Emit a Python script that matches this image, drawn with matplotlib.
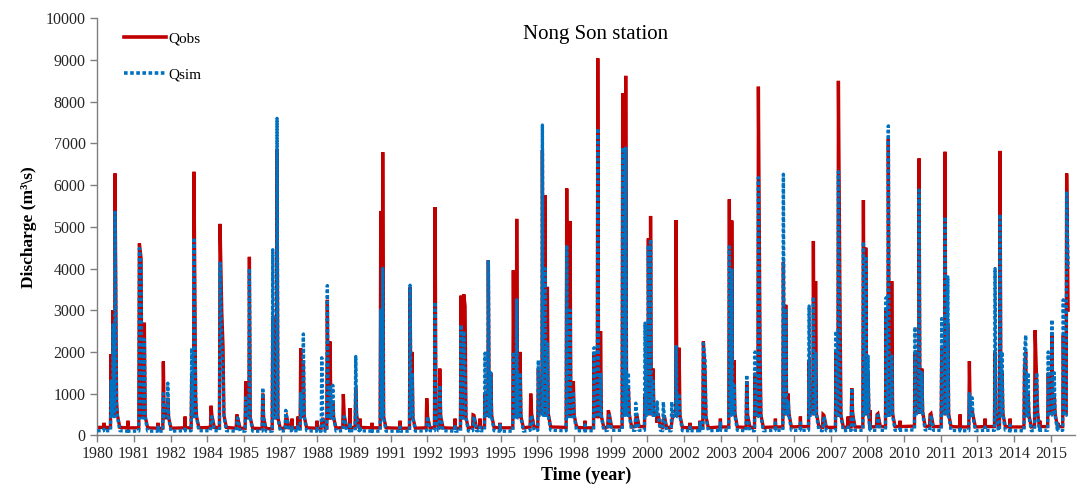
import matplotlib
matplotlib.use("Agg")
import matplotlib.pyplot as plt
from matplotlib.lines import Line2D

# ---------------- data ----------------
# x axis: day index from the start of the record; ticks every 500 days
tick_days = list(range(0, 13001, 500))
tick_labels = ["1980", "1981", "1982", "1984", "1985", "1987", "1988", "1989",
               "1991", "1992", "1993", "1995", "1996", "1998", "1999", "2000",
               "2002", "2003", "2004", "2006", "2007", "2008", "2010", "2011",
               "2013", "2014", "2015"]

# flood-event points: day index, observed and simulated discharge (m3/s)
event_day = [187, 214, 241, 262, 573, 596, 641, 900, 960, 1287, 1318, 1340,
             1550, 1673, 1696, 1714, 1901, 2023, 2073, 2255, 2392, 2450, 2569,
             2773, 2809, 3060, 3136, 3173, 3210, 3354, 3523, 3864, 3891, 4264,
             4291, 4491, 4605, 4669, 4959, 4996, 5014, 5123, 5286, 5331, 5364,
             5672, 5718, 5764, 5909, 6013, 6068, 6104, 6136, 6400, 6445, 6490,
             6773, 6823, 6861, 6967, 7163, 7204, 7240, 7341, 7468, 7513, 7543,
             7577, 7632, 7717, 7832, 7891, 7932, 8263, 8286, 8617, 8650, 8681,
             8854, 8968, 9013, 9036, 9354, 9386, 9418, 9705, 9763, 9793, 9895,
             10072, 10104, 10127, 10286, 10445, 10477, 10508, 10631, 10754,
             10785, 10831, 11149, 11204, 11241, 11354, 11513, 11558, 11595,
             11890, 11927, 12240, 12308, 12335, 12642, 12658, 12690, 12786,
             12809, 12965, 13015, 13047, 13170, 13216, 13236]
event_obs = [1950, 3000, 6280, 800, 4600, 4250, 2700, 1770, 900, 1500, 6320, 900,
             710, 5070, 3000, 2100, 500, 1300, 4280, 1000, 2850, 6840, 400,
             2090, 1800, 300, 3250, 2250, 800, 990, 1130, 5380, 6790, 3550,
             2000, 890, 5470, 1600, 3350, 3380, 3100, 490, 1000, 4200, 1500,
             3960, 5190, 2000, 1000, 1600, 6840, 5760, 3560, 5920, 5140, 1300,
             2000, 9040, 2500, 600, 8200, 8620, 1200, 400, 1000, 4720, 5260,
             1600, 300, 300, 300, 5160, 2100, 2250, 1500, 5660, 5150, 1800,
             1300, 1500, 8360, 2000, 4160, 3130, 1000, 1800, 4660, 3700, 500,
             2000, 8500, 2900, 1130, 5640, 4500, 1500, 500, 3000,
             7120, 3700, 2000, 6640, 1600, 500, 2100, 6800, 2700,
             1780, 600, 2000, 6820, 1500, 1600, 2000, 1000, 2520,
             1200, 1500, 2400, 1000, 2400, 6280, 3000]
event_sim = [1300, 2650, 5350, 700, 4480, 4100, 2300, 1000, 1250, 2090, 4740, 1000,
             300, 4130, 2300, 1500, 250, 900, 4000, 1140, 4450, 7600, 600,
             1000, 2430, 1860, 3590, 1200, 1200, 300, 1890, 3000, 4000, 3600,
             1500, 200, 3200, 1200, 2650, 2500, 1500, 200, 1970, 4200, 1500,
             2000, 3250, 1500, 400, 1800, 7440, 4000, 2200, 4560, 3000, 1050,
             2100, 7360, 1500, 300, 6900, 6920, 1500, 770, 2690, 4560, 4700,
             1300, 800, 800, 800, 2130, 1000, 2200, 1800, 4520, 4000, 1200,
             1450, 2000, 6180, 1500, 6260, 3000, 800, 3100, 3320, 2000, 200,
             2500, 6320, 1500, 1130, 4640, 4300, 1900, 200, 3300,
             7420, 1900, 2600, 5880, 1500, 200, 2800, 5240, 3800,
             1000, 900, 4000, 5300, 2000, 2000, 2400, 1500, 1000,
             1500, 2000, 2770, 1500, 3250, 5850, 4000]

# small dry-season rises: day index, observed and simulated discharge
minor_day = [91, 418, 827, 1196, 2654, 2736, 2995, 3445, 3581, 3745, 4127,
             4877, 5218, 5491, 6650, 8081, 8218, 8495, 9245, 9586, 10236,
             10536, 10945, 11763, 12104, 12445, 12850, 13095]
minor_obs = [300, 350, 300, 450, 400, 450, 350, 650, 400, 300, 350,
             400, 400, 300, 350, 300, 350, 400, 400, 450, 450,
             600, 350, 500, 400, 400, 350, 300]
minor_sim = [150, 150, 200, 200, 200, 250, 200, 300, 200, 150, 200,
             250, 200, 250, 250, 200, 300, 300, 300, 300, 200,
             250, 200, 200, 200, 250, 200, 250]

# dry-season base flow and post-flood recession level, per record year
base_obs = [190, 180, 170, 180, 190, 170, 160, 180, 170, 190, 180, 170,
            180, 170, 190, 180, 200, 190, 180, 200, 210, 190, 180, 200,
            190, 200, 210, 190, 200, 210, 220, 210, 200, 210, 200, 210, 210]
base_sim = [110, 100, 100, 110, 110, 100, 100, 110, 100, 110, 100, 100,
            110, 100, 110, 100, 120, 110, 110, 120, 120, 110, 110, 120,
            110, 120, 120, 110, 120, 120, 130, 120, 110, 120, 110, 120, 120]
wet_obs = [480, 450, 420, 450, 480, 420, 420, 450, 420, 480, 450, 420,
           450, 420, 480, 450, 520, 480, 450, 520, 520, 480, 450, 520,
           480, 520, 520, 480, 520, 520, 560, 520, 480, 520, 480, 520, 520]
wet_sim = [450, 420, 420, 450, 450, 420, 420, 450, 420, 450, 420, 420,
           450, 420, 450, 420, 480, 450, 450, 480, 480, 450, 450, 480,
           450, 480, 480, 450, 480, 480, 520, 480, 450, 480, 450, 480, 480]


# ---------------- build hydrograph polylines ----------------
def year_idx(d):
    return min(int(d / 365.25), len(base_obs) - 1)


def build(values, mvalues, base, wet):
    pts = [(0, base[0])]
    prev = 0
    for d, v in zip(event_day, values):
        yi = year_idx(d)
        gap = d - prev
        if prev > 0 and gap > 24:
            pyi = year_idx(prev)
            pts.append((prev + 12, wet[pyi]))
            if gap > 60:
                pts.append((prev + 45, base[pyi]))
                pts.append((d - 8, base[yi]))
            else:
                pts.append((d - 6, wet[yi]))
        elif prev == 0:
            pts.append((d - 8, base[yi]))
        pts.append((d, v))
        prev = d
    for d, v in zip(minor_day, mvalues):
        yi = year_idx(d)
        pts.append((d - 5, base[yi]))
        pts.append((d, v))
        pts.append((d + 5, base[yi]))
    pts.sort(key=lambda p: p[0])
    return [p[0] for p in pts], [p[1] for p in pts]


obs_x, obs_y = build(event_obs, minor_obs, base_obs, wet_obs)
sim_x, sim_y = build(event_sim, minor_sim, base_sim, wet_sim)

# ---------------- figure ----------------
plt.rcParams["font.family"] = ["Liberation Serif", "DejaVu Serif"]
fig = plt.figure(figsize=(10.84, 4.84), dpi=100)
ax = fig.add_axes([0.0898, 0.1006, 0.9019, 0.8616])

red = "#C00000"
blue = "#0070C0"
ax.plot(obs_x, obs_y, color=red, lw=2.4, solid_joinstyle="miter", zorder=2)
ax.plot(sim_x, sim_y, color=blue, lw=2.4, linestyle=(0, (1.0, 0.7)),
        dash_capstyle="butt", zorder=3)

ax.set_xlim(0, 13330)
ax.set_ylim(0, 10000)
ax.set_xticks(tick_days)
ax.set_xticklabels(tick_labels)
ax.set_yticks(range(0, 10001, 1000))

for s in ("top", "right"):
    ax.spines[s].set_visible(False)
for s in ("left", "bottom"):
    ax.spines[s].set_color("#7f7f7f")
    ax.spines[s].set_linewidth(1.0)
ax.tick_params(axis="both", direction="out", length=5, width=1.0,
               color="#7f7f7f", labelsize=11.5, labelcolor="#262626")
ax.tick_params(axis="x", pad=3)

ax.set_xlabel("Time (year)", fontsize=13, fontweight="bold", labelpad=3)
ax.set_ylabel("Discharge (m\u00b3\\s)", fontsize=12.5, fontweight="bold", labelpad=6)

ax.text(0.510, 0.962, "Nong Son station", transform=ax.transAxes,
        ha="center", va="center", fontsize=15)

handles = [Line2D([], [], color=red, lw=2.6),
           Line2D([], [], color=blue, lw=2.6, linestyle=(0, (1.0, 0.7)),
                  dash_capstyle="butt")]
ax.legend(handles, ["Qobs", "Qsim"], loc="upper left",
          bbox_to_anchor=(0.013, 1.0), frameon=False, fontsize=11,
          handlelength=2.75, handletextpad=0.2, labelspacing=1.45)

fig.savefig("out.png", dpi=100)
